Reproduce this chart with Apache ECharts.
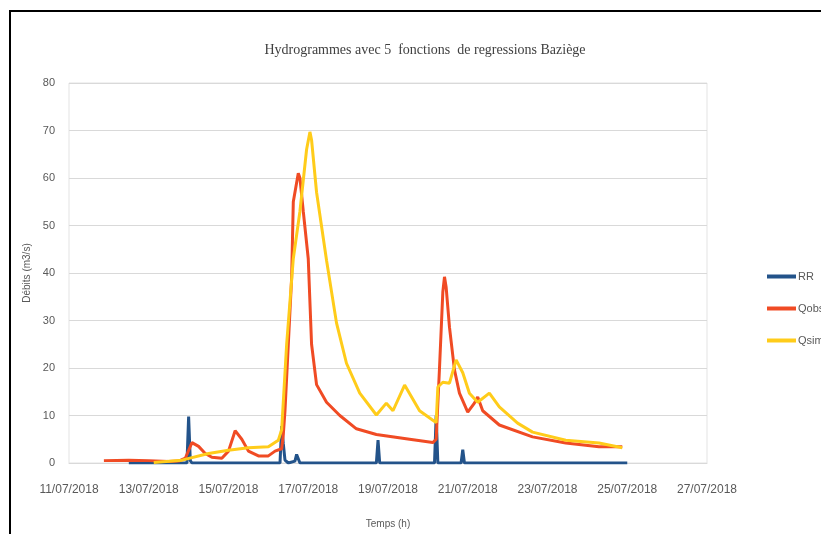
<!DOCTYPE html>
<html>
<head>
<meta charset="utf-8">
<script src="https://cdn.jsdelivr.net/npm/echarts@6/dist/echarts.min.js"></script>
<style>
  html, body { margin: 0; padding: 0; background: #ffffff; }
  #chart { width: 821px; height: 534px; }
</style>
</head>
<body>
<div id="chart"></div>
<script>
// Pluie (RR), débit observé (Qobs) et débit simulé (Qsim) — Baziège, juillet 2018
const rrTimes = [
  '2018-07-12 12', '2018-07-13 23', '2018-07-14 00', '2018-07-14 01', '2018-07-14 02',
  '2018-07-16 07', '2018-07-16 08', '2018-07-16 09', '2018-07-16 10', '2018-07-16 12',
  '2018-07-16 16', '2018-07-16 17', '2018-07-16 19', '2018-07-18 17', '2018-07-18 18',
  '2018-07-18 19', '2018-07-20 04', '2018-07-20 05', '2018-07-20 06', '2018-07-20 20',
  '2018-07-20 21', '2018-07-20 22', '2018-07-25 00'
];
const rrValues = [
  0, 0, 9.8, 0.5, 0,
  0, 7.8, 4.0, 0.6, 0,
  0.4, 1.8, 0, 0, 4.8,
  0, 0, 10.0, 0, 0,
  2.8, 0, 0
];

const qobsTimes = [
  '2018-07-11 21', '2018-07-12 12', '2018-07-13 00', '2018-07-13 12', '2018-07-13 18',
  '2018-07-13 22', '2018-07-14 02', '2018-07-14 06', '2018-07-14 10', '2018-07-14 14',
  '2018-07-14 20', '2018-07-15 00', '2018-07-15 04', '2018-07-15 08', '2018-07-15 12',
  '2018-07-15 18', '2018-07-16 00', '2018-07-16 04', '2018-07-16 08', '2018-07-16 09',
  '2018-07-16 10', '2018-07-16 12', '2018-07-16 14', '2018-07-16 15', '2018-07-16 18',
  '2018-07-16 19', '2018-07-16 21', '2018-07-17 00', '2018-07-17 02', '2018-07-17 05',
  '2018-07-17 11', '2018-07-17 19', '2018-07-18 05', '2018-07-18 17', '2018-07-19 13',
  '2018-07-20 03', '2018-07-20 05', '2018-07-20 07', '2018-07-20 09', '2018-07-20 10',
  '2018-07-20 11', '2018-07-20 13', '2018-07-20 16', '2018-07-20 19', '2018-07-21 00',
  '2018-07-21 04', '2018-07-21 06', '2018-07-21 09', '2018-07-21 19', '2018-07-22 15',
  '2018-07-23 11', '2018-07-24 07', '2018-07-24 21'
];
const qobsValues = [
  0.5, 0.6, 0.5, 0.3, 0.4,
  1.0, 4.3, 3.5, 2.0, 1.2,
  1.0, 2.5, 6.8, 5.0, 2.5,
  1.5, 1.5, 2.5, 3.0, 6.0,
  11, 25, 39, 55, 61,
  60, 53, 43, 25, 16.5,
  12.8, 10, 7.2, 6.0, 5.0,
  4.3, 5.0, 20, 36, 39.2,
  37, 28.6, 19.6, 14.7, 10.7,
  12.6, 13.9, 11, 8.0, 5.5,
  4.2, 3.4, 3.4
];

const qsimTimes = [
  '2018-07-13 03', '2018-07-13 20', '2018-07-14 12', '2018-07-15 00', '2018-07-15 12',
  '2018-07-16 00', '2018-07-16 06', '2018-07-16 08', '2018-07-16 11', '2018-07-16 15',
  '2018-07-16 19', '2018-07-16 23', '2018-07-17 01', '2018-07-17 02', '2018-07-17 05',
  '2018-07-17 11', '2018-07-17 17', '2018-07-17 23', '2018-07-18 07', '2018-07-18 17',
  '2018-07-18 23', '2018-07-19 03', '2018-07-19 10', '2018-07-19 19', '2018-07-20 03',
  '2018-07-20 05', '2018-07-20 06', '2018-07-20 09', '2018-07-20 13', '2018-07-20 17',
  '2018-07-20 21', '2018-07-21 01', '2018-07-21 06', '2018-07-21 13', '2018-07-21 19',
  '2018-07-22 06', '2018-07-22 15', '2018-07-23 11', '2018-07-24 07', '2018-07-24 21'
];
const qsimValues = [
  0.1, 0.6, 2.0, 2.7, 3.2,
  3.4, 4.8, 7.0, 25, 43,
  53, 66, 69.7, 68, 57,
  42.7, 29.5, 21, 14.7, 10.1,
  12.6, 11, 16.4, 11, 9.0,
  8.5, 16, 17, 16.8, 21.7,
  19, 14.7, 12.8, 14.7, 11.8,
  8.4, 6.5, 4.8, 4.2, 3.2
];

const xMin = '2018-07-11 00';
const xMax = '2018-07-27 00';
const xStepDays = 2;
const yMin = 0, yMax = 80, yStep = 10;

function toMs(s) {
  const [d, h] = s.split(' ');
  const [y, m, day] = d.split('-').map(Number);
  return Date.UTC(y, m - 1, day, Number(h));
}
function pairs(times, values) {
  return times.map((t, i) => [toMs(t), values[i]]);
}
function pad(n) { return (n < 10 ? '0' : '') + n; }
function fmtDate(ms) {
  const d = new Date(ms);
  return pad(d.getUTCDate()) + '/' + pad(d.getUTCMonth() + 1) + '/' + d.getUTCFullYear();
}

const chart = echarts.init(document.getElementById('chart'), null, { renderer: 'canvas' });
const labelFont = 'Liberation Sans';

chart.setOption({
  backgroundColor: '#ffffff',
  animation: false,
  title: {
    text: 'Hydrogrammes avec 5  fonctions  de regressions Baziège',
    left: 420, top: 38, textAlign: 'center',
    textStyle: { fontFamily: 'Liberation Serif', fontSize: 14, fontWeight: 'normal', color: '#404040' }
  },
  legend: {
    orient: 'vertical',
    left: 762, top: 266,
    itemGap: 21,
    itemWidth: 29, itemHeight: 4,
    icon: 'rect',
    textStyle: { fontFamily: labelFont, fontSize: 11, color: '#595959', padding: [0, 0, 0, -3] },
    data: ['RR', 'Qobs', 'Qsim']
  },
  grid: {
    left: 69, right: 114, top: 83, bottom: 71,
    show: true, borderColor: '#e3e3e3', borderWidth: 1
  },
  xAxis: {
    type: 'value',
    min: toMs(xMin), max: toMs(xMax),
    interval: xStepDays * 86400000,
    name: 'Temps (h)', nameLocation: 'middle', nameGap: 56,
    nameTextStyle: { fontFamily: labelFont, fontSize: 10, color: '#595959' },
    axisLine: { show: true, lineStyle: { color: '#d9d9d9' } },
    axisTick: { show: false },
    splitLine: { show: false },
    axisLabel: {
      margin: 21, fontFamily: labelFont, fontSize: 12, color: '#595959',
      formatter: v => fmtDate(v)
    }
  },
  yAxis: {
    type: 'value',
    min: yMin, max: yMax, interval: yStep,
    name: 'Débits (m3/s)', nameLocation: 'middle', nameGap: 37,
    nameTextStyle: { fontFamily: labelFont, fontSize: 10, color: '#595959' },
    axisLine: { show: false },
    axisTick: { show: false },
    splitLine: { lineStyle: { color: '#d9d9d9', width: 1 } },
    axisLabel: { margin: 14, fontFamily: labelFont, fontSize: 11, color: '#595959' }
  },
  series: [
    {
      name: 'RR', type: 'line', showSymbol: false, symbol: 'none',
      data: pairs(rrTimes, rrValues),
      lineStyle: { color: '#23538a', width: 3 }, itemStyle: { color: '#23538a' }
    },
    {
      name: 'Qobs', type: 'line', showSymbol: false, symbol: 'none',
      data: pairs(qobsTimes, qobsValues),
      lineStyle: { color: '#f04b24', width: 3 }, itemStyle: { color: '#f04b24' }
    },
    {
      name: 'Qsim', type: 'line', showSymbol: false, symbol: 'none',
      data: pairs(qsimTimes, qsimValues),
      lineStyle: { color: '#ffcc1a', width: 3 }, itemStyle: { color: '#ffcc1a' }
    }
  ],
  graphic: [
    { type: 'line', shape: { x1: 9, y1: 11, x2: 821, y2: 11 }, style: { stroke: '#000', lineWidth: 2 } },
    { type: 'line', shape: { x1: 10, y1: 10, x2: 10, y2: 534 }, style: { stroke: '#000', lineWidth: 2 } }
  ]
});
</script>
</body>
</html>
